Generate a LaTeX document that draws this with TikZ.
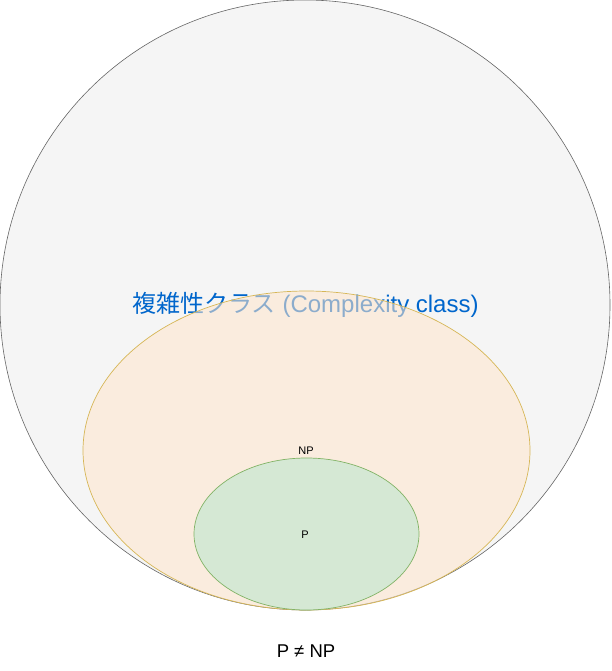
\documentclass[tikz,border=0pt]{standalone}
\usepackage{fontspec}
\setmainfont{Liberation Sans}
\newfontfamily\cjkfont{Noto Sans CJK JP}
\definecolor{outerfill}{HTML}{F5F5F5}
\definecolor{outerline}{HTML}{666666}
\definecolor{npfill}{HTML}{FFE6CC}
\definecolor{npline}{HTML}{D6B656}
\definecolor{pfill}{HTML}{D5E8D4}
\definecolor{pline}{HTML}{82B366}
\definecolor{titleblue}{HTML}{0066CC}
\tikzset{
  outerset/.style={circle, draw=outerline, fill=outerfill, line width=0.6pt, minimum size=610pt, inner sep=0pt},
  npset/.style={ellipse, draw=npline, fill=npfill, fill opacity=0.55, line width=0.7pt, minimum width=447pt, minimum height=319pt, inner sep=0pt},
  pset/.style={ellipse, draw=pline, fill=pfill, line width=0.7pt, minimum width=225pt, minimum height=152pt, inner sep=0pt},
  lbl/.style={font=\fontsize{11}{13}\selectfont, text=black}
}
\usetikzlibrary{shapes.geometric}
\begin{document}
\begin{tikzpicture}[x=1pt,y=-1pt]
\useasboundingbox (0,0) rectangle (611,671);
\node[outerset] (outer) at (305,305) {};
\node[text=titleblue, font=\fontsize{24}{28}\selectfont] (title) at (305.5,305) {{\cjkfont 複雑性クラス} (Complexity class)};
\node[npset] (np) at (306.5,450.5) {};
\node[pset] (p) at (306.5,534) {};
\node[lbl] (nplabel) at (306,451) {NP};
\node[lbl] (plabel) at (305,535) {P};
\node[font=\fontsize{18.5}{22}\selectfont] (neq) at (306,651) {P ≠ NP};
\end{tikzpicture}
\end{document}
